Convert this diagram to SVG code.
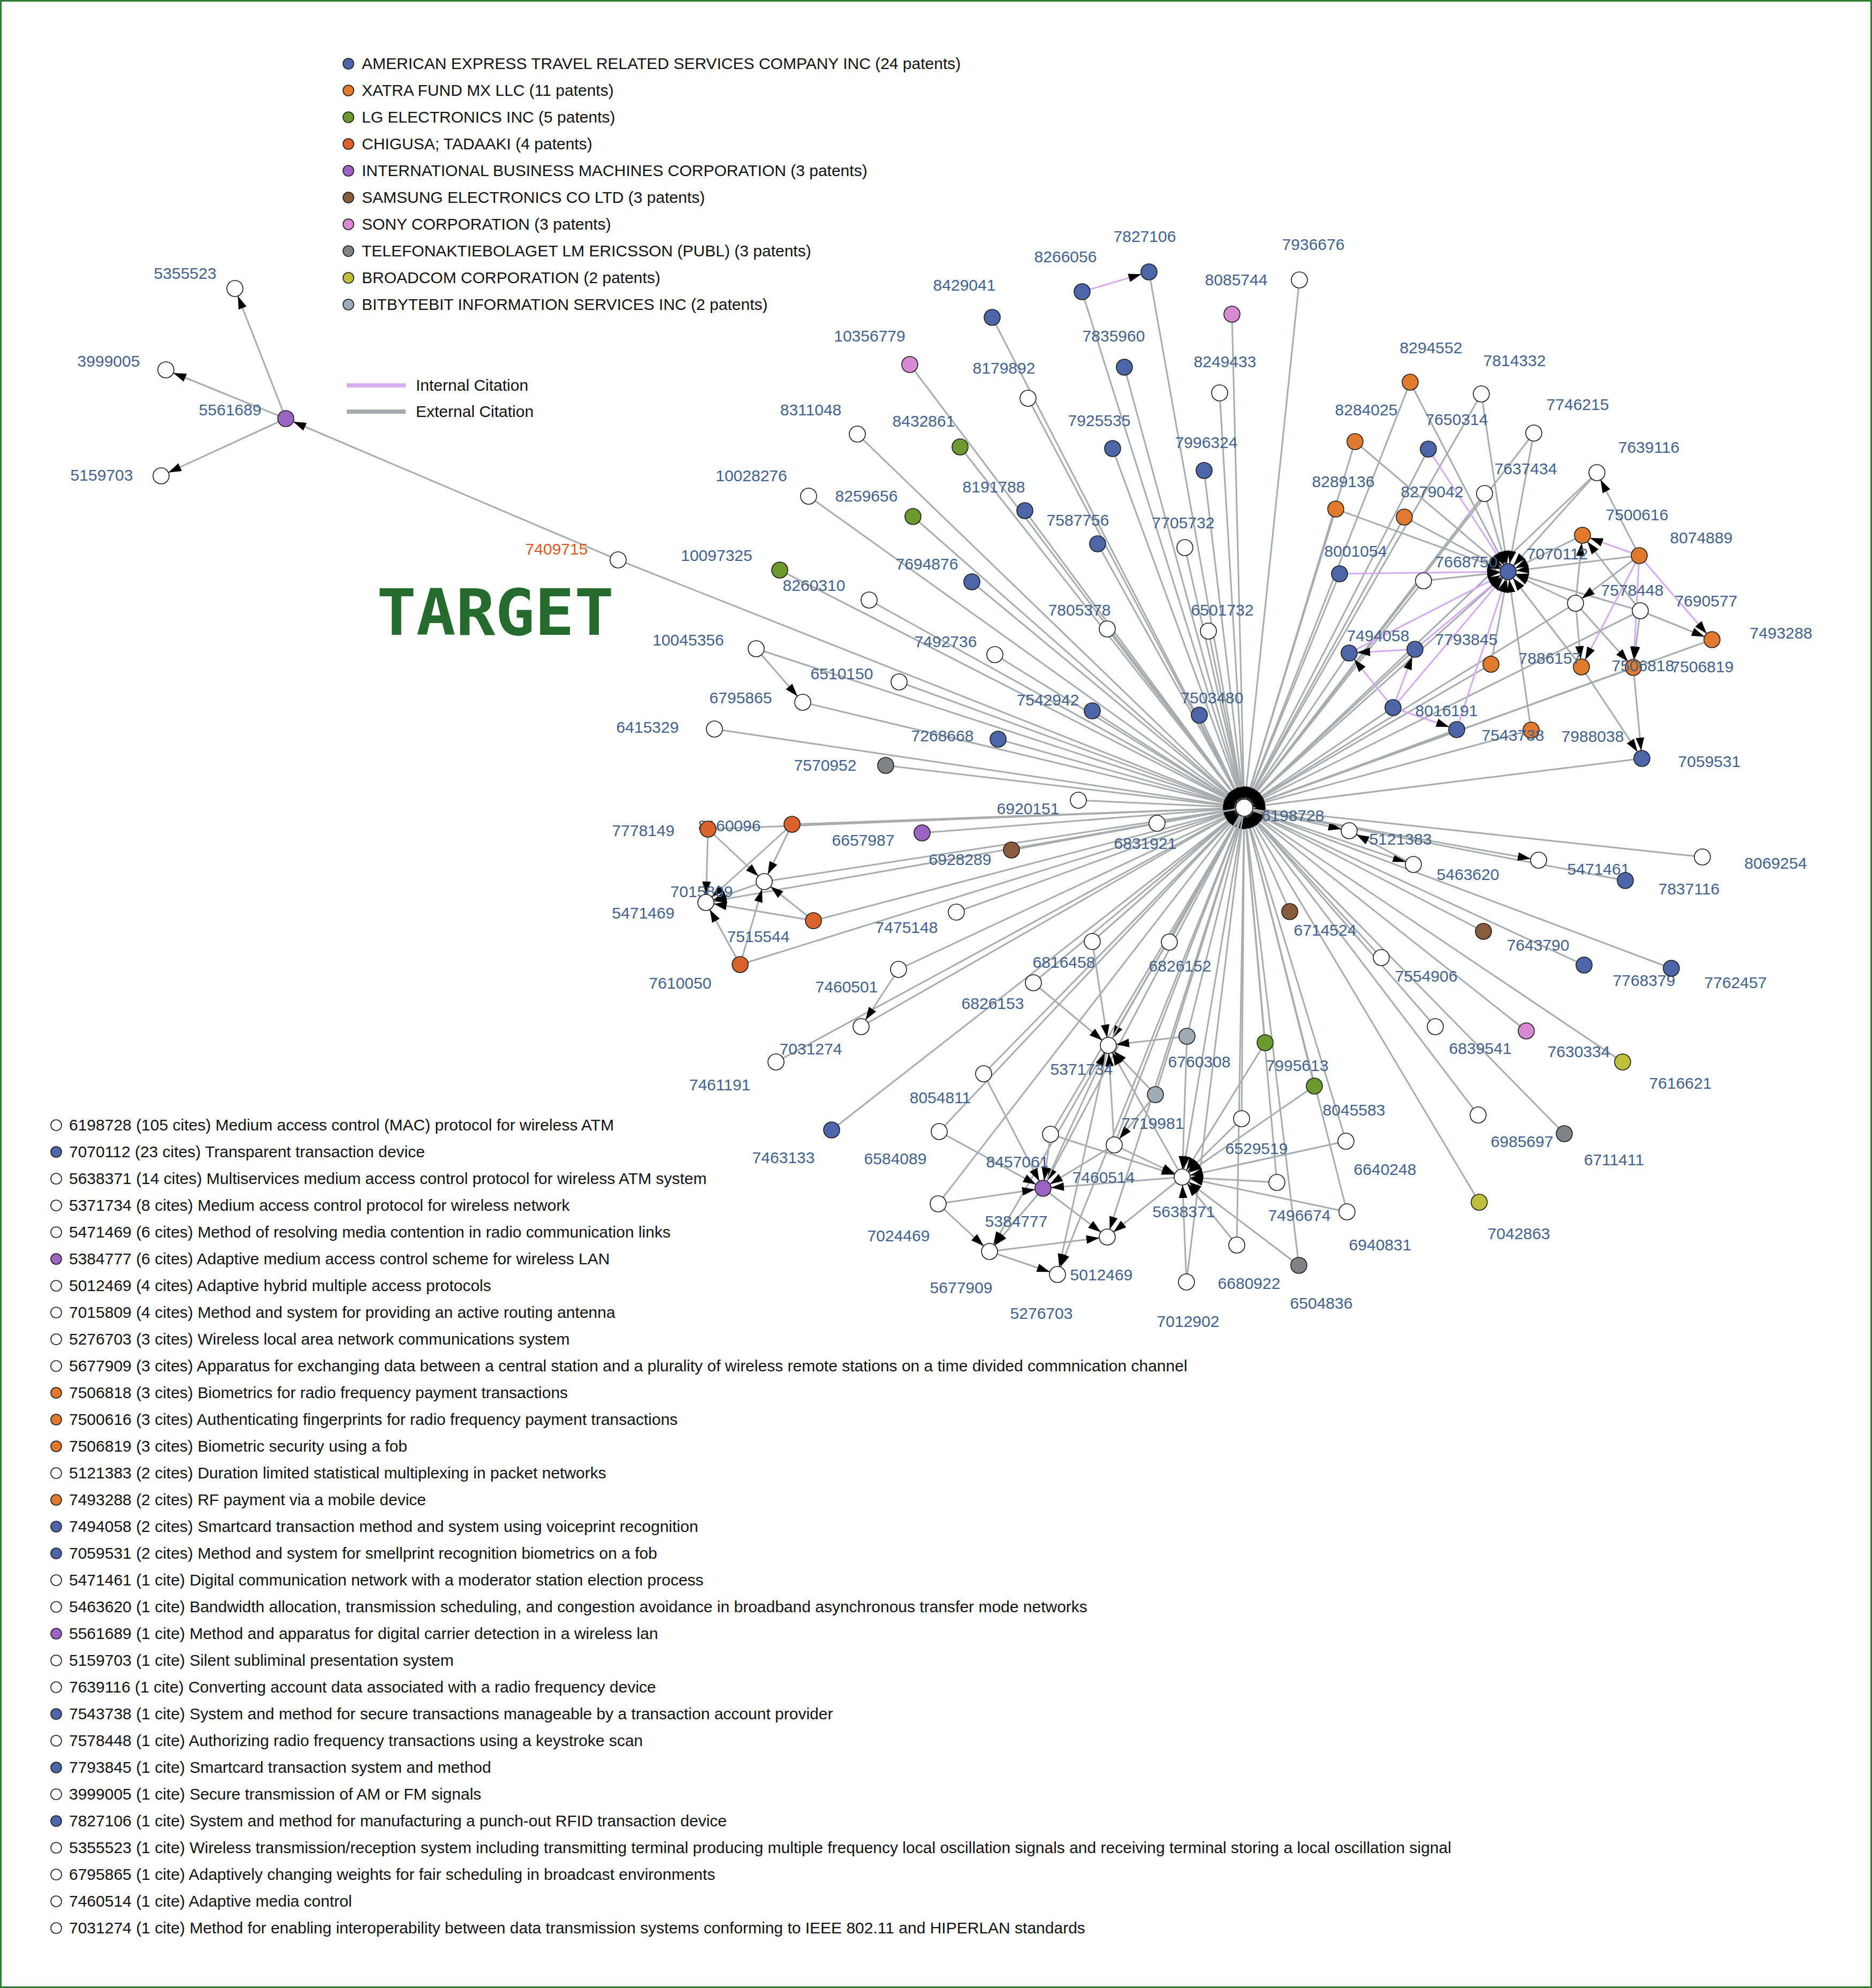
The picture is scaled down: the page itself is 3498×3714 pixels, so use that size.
<svg xmlns="http://www.w3.org/2000/svg" width="3498" height="3714" viewBox="0 0 3498 3714">
<style>
text{font-family:"Liberation Sans",Arial,sans-serif}
text.tg{font-family:"DejaVu Sans Mono","Liberation Mono",monospace;font-weight:bold;font-size:120px;fill:#256b2e}
.e{stroke:#a7acaf;stroke-width:3;fill:none;marker-end:url(#a)}
.i{stroke:#d6aaf1;stroke-width:3;fill:none;marker-end:url(#a)}
circle{stroke:#1a1a1a;stroke-width:1.6}
.w{fill:#ffffff}.ax{fill:#4c66a8}.xf{fill:#e07a2e}.lg{fill:#6c9a2e}.ch{fill:#d9632a}.ibm{fill:#9b64c2}.ss{fill:#8a5c3e}.sn{fill:#d68ad1}.er{fill:#7f8385}.bc{fill:#bfbf3c}.bb{fill:#9facb5}
.l{font-size:30px;fill:#44618b;text-anchor:middle}
.t{font-size:30px;fill:#111}
</style>
<defs>
<marker id="a" markerUnits="userSpaceOnUse" markerWidth="24" markerHeight="16" refX="39" refY="8" orient="auto" overflow="visible"><path d="M0,0 L24,8 L0,16 z" fill="#000"/></marker>
</defs>
<rect x="1.5" y="1.5" width="3495" height="3711" fill="#fff" stroke="#2e7d32" stroke-width="3"/>
<g id="legend-companies">
<circle cx="651" cy="119" r="10" class="ax"/><text class="t" x="676" y="129">AMERICAN EXPRESS TRAVEL RELATED SERVICES COMPANY INC (24 patents)</text>
<circle cx="651" cy="169" r="10" class="xf"/><text class="t" x="676" y="179">XATRA FUND MX LLC (11 patents)</text>
<circle cx="651" cy="219" r="10" class="lg"/><text class="t" x="676" y="229">LG ELECTRONICS INC (5 patents)</text>
<circle cx="651" cy="269" r="10" class="ch"/><text class="t" x="676" y="279">CHIGUSA; TADAAKI (4 patents)</text>
<circle cx="651" cy="319" r="10" class="ibm"/><text class="t" x="676" y="329">INTERNATIONAL BUSINESS MACHINES CORPORATION (3 patents)</text>
<circle cx="651" cy="369" r="10" class="ss"/><text class="t" x="676" y="379">SAMSUNG ELECTRONICS CO LTD (3 patents)</text>
<circle cx="651" cy="419" r="10" class="sn"/><text class="t" x="676" y="429">SONY CORPORATION (3 patents)</text>
<circle cx="651" cy="469" r="10" class="er"/><text class="t" x="676" y="479">TELEFONAKTIEBOLAGET LM ERICSSON (PUBL) (3 patents)</text>
<circle cx="651" cy="519" r="10" class="bc"/><text class="t" x="676" y="529">BROADCOM CORPORATION (2 patents)</text>
<circle cx="651" cy="569" r="10" class="bb"/><text class="t" x="676" y="579">BITBYTEBIT INFORMATION SERVICES INC (2 patents)</text>
</g>
<g id="legend-edges">
<line x1="648" y1="720" x2="758" y2="720" stroke="#d8b0f2" stroke-width="8"/><text class="t" x="777" y="730">Internal Citation</text>
<line x1="648" y1="769" x2="758" y2="769" stroke="#a7acaf" stroke-width="8"/><text class="t" x="777" y="779">External Citation</text>
</g>
<text id="target-title" class="tg" x="704" y="1186" textLength="443" lengthAdjust="spacingAndGlyphs">TARGET</text>
<g id="connectors">
<line class="e" x1="1155" y1="1046" x2="534" y2="782"/>
<line class="e" x1="534" y1="782" x2="439" y2="539"/>
<line class="e" x1="534" y1="782" x2="310" y2="691"/>
<line class="e" x1="534" y1="782" x2="301" y2="889"/>
<line class="i" x1="2022" y1="545" x2="2147" y2="508"/>
<line class="e" x1="1413" y1="1212" x2="1500" y2="1312"/>
<line class="e" x1="1155" y1="1046" x2="2325" y2="1509"/>
<line class="e" x1="2147" y1="508" x2="2325" y2="1509"/>
<line class="e" x1="2022" y1="545" x2="2325" y2="1509"/>
<line class="e" x1="1854" y1="593" x2="2325" y2="1509"/>
<line class="e" x1="2302" y1="587" x2="2325" y2="1509"/>
<line class="e" x1="2428" y1="523" x2="2325" y2="1509"/>
<line class="e" x1="1700" y1="681" x2="2325" y2="1509"/>
<line class="e" x1="1921" y1="744" x2="2325" y2="1509"/>
<line class="e" x1="2101" y1="686" x2="2325" y2="1509"/>
<line class="e" x1="2279" y1="734" x2="2325" y2="1509"/>
<line class="e" x1="1602" y1="811" x2="2325" y2="1509"/>
<line class="e" x1="1794" y1="835" x2="2325" y2="1509"/>
<line class="e" x1="2079" y1="838" x2="2325" y2="1509"/>
<line class="e" x1="2250" y1="879" x2="2325" y2="1509"/>
<line class="e" x1="1511" y1="927" x2="2325" y2="1509"/>
<line class="e" x1="1706" y1="965" x2="2325" y2="1509"/>
<line class="e" x1="1915" y1="954" x2="2325" y2="1509"/>
<line class="e" x1="2051" y1="1016" x2="2325" y2="1509"/>
<line class="e" x1="2214" y1="1023" x2="2325" y2="1509"/>
<line class="e" x1="1457" y1="1065" x2="2325" y2="1509"/>
<line class="e" x1="1816" y1="1087" x2="2325" y2="1509"/>
<line class="e" x1="1624" y1="1121" x2="2325" y2="1509"/>
<line class="e" x1="2069" y1="1175" x2="2325" y2="1509"/>
<line class="e" x1="2258" y1="1179" x2="2325" y2="1509"/>
<line class="e" x1="1413" y1="1212" x2="2325" y2="1509"/>
<line class="e" x1="1859" y1="1223" x2="2325" y2="1509"/>
<line class="e" x1="1680" y1="1274" x2="2325" y2="1509"/>
<line class="e" x1="1500" y1="1312" x2="2325" y2="1509"/>
<line class="e" x1="2041" y1="1328" x2="2325" y2="1509"/>
<line class="e" x1="2241" y1="1336" x2="2325" y2="1509"/>
<line class="e" x1="1335" y1="1362" x2="2325" y2="1509"/>
<line class="e" x1="1865" y1="1381" x2="2325" y2="1509"/>
<line class="e" x1="1655" y1="1430" x2="2325" y2="1509"/>
<line class="e" x1="2015" y1="1495" x2="2325" y2="1509"/>
<line class="e" x1="1480" y1="1540" x2="2325" y2="1509"/>
<line class="e" x1="1323" y1="1549" x2="2325" y2="1509"/>
<line class="e" x1="1723" y1="1556" x2="2325" y2="1509"/>
<line class="e" x1="2162" y1="1538" x2="2325" y2="1509"/>
<line class="e" x1="1890" y1="1588" x2="2325" y2="1509"/>
<line class="e" x1="1428" y1="1647" x2="2325" y2="1509"/>
<line class="e" x1="1520" y1="1720" x2="2325" y2="1509"/>
<line class="e" x1="1383" y1="1802" x2="2325" y2="1509"/>
<line class="e" x1="1787" y1="1704" x2="2325" y2="1509"/>
<line class="e" x1="3181" y1="1601" x2="2325" y2="1509"/>
<line class="e" x1="3037" y1="1645" x2="2325" y2="1509"/>
<line class="e" x1="2410" y1="1703" x2="2325" y2="1509"/>
<line class="e" x1="2772" y1="1740" x2="2325" y2="1509"/>
<line class="e" x1="2960" y1="1803" x2="2325" y2="1509"/>
<line class="e" x1="3123" y1="1809" x2="2325" y2="1509"/>
<line class="e" x1="2581" y1="1789" x2="2325" y2="1509"/>
<line class="e" x1="2682" y1="1918" x2="2325" y2="1509"/>
<line class="e" x1="2852" y1="1926" x2="2325" y2="1509"/>
<line class="e" x1="3032" y1="1984" x2="2325" y2="1509"/>
<line class="e" x1="2762" y1="2083" x2="2325" y2="1509"/>
<line class="e" x1="2923" y1="2118" x2="2325" y2="1509"/>
<line class="e" x1="2764" y1="2246" x2="2325" y2="1509"/>
<line class="e" x1="2364" y1="1948" x2="2325" y2="1509"/>
<line class="e" x1="2456" y1="2029" x2="2325" y2="1509"/>
<line class="e" x1="2320" y1="2090" x2="2325" y2="1509"/>
<line class="e" x1="2515" y1="2132" x2="2325" y2="1509"/>
<line class="e" x1="2386" y1="2209" x2="2325" y2="1509"/>
<line class="e" x1="2517" y1="2264" x2="2325" y2="1509"/>
<line class="e" x1="2311" y1="2326" x2="2325" y2="1509"/>
<line class="e" x1="2217" y1="2395" x2="2325" y2="1509"/>
<line class="e" x1="2427" y1="2364" x2="2325" y2="1509"/>
<line class="e" x1="2041" y1="1759" x2="2325" y2="1509"/>
<line class="e" x1="2185" y1="1760" x2="2325" y2="1509"/>
<line class="e" x1="1679" y1="1811" x2="2325" y2="1509"/>
<line class="e" x1="1931" y1="1836" x2="2325" y2="1509"/>
<line class="e" x1="1609" y1="1918" x2="2325" y2="1509"/>
<line class="e" x1="1450" y1="1984" x2="2325" y2="1509"/>
<line class="e" x1="2218" y1="1936" x2="2325" y2="1509"/>
<line class="e" x1="1838" y1="2006" x2="2325" y2="1509"/>
<line class="e" x1="2159" y1="2045" x2="2325" y2="1509"/>
<line class="e" x1="1554" y1="2111" x2="2325" y2="1509"/>
<line class="e" x1="1755" y1="2114" x2="2325" y2="1509"/>
<line class="e" x1="1963" y1="2119" x2="2325" y2="1509"/>
<line class="e" x1="2082" y1="2139" x2="2325" y2="1509"/>
<line class="e" x1="1753" y1="2249" x2="2325" y2="1509"/>
<line class="e" x1="2635" y1="714" x2="2325" y2="1509"/>
<line class="e" x1="2768" y1="736" x2="2325" y2="1509"/>
<line class="e" x1="2532" y1="825" x2="2325" y2="1509"/>
<line class="e" x1="2669" y1="839" x2="2325" y2="1509"/>
<line class="e" x1="2866" y1="809" x2="2325" y2="1509"/>
<line class="e" x1="2984" y1="883" x2="2325" y2="1509"/>
<line class="e" x1="2774" y1="922" x2="2325" y2="1509"/>
<line class="e" x1="2496" y1="951" x2="2325" y2="1509"/>
<line class="e" x1="2624" y1="966" x2="2325" y2="1509"/>
<line class="e" x1="2503" y1="1072" x2="2325" y2="1509"/>
<line class="e" x1="2818" y1="1068" x2="2325" y2="1509"/>
<line class="e" x1="2660" y1="1085" x2="2325" y2="1509"/>
<line class="e" x1="2944" y1="1127" x2="2325" y2="1509"/>
<line class="e" x1="3065" y1="1141" x2="2325" y2="1509"/>
<line class="e" x1="3199" y1="1195" x2="2325" y2="1509"/>
<line class="e" x1="2521" y1="1220" x2="2325" y2="1509"/>
<line class="e" x1="2644" y1="1213" x2="2325" y2="1509"/>
<line class="e" x1="2786" y1="1241" x2="2325" y2="1509"/>
<line class="e" x1="3052" y1="1247" x2="2325" y2="1509"/>
<line class="e" x1="2603" y1="1322" x2="2325" y2="1509"/>
<line class="e" x1="2722" y1="1363" x2="2325" y2="1509"/>
<line class="e" x1="2861" y1="1364" x2="2325" y2="1509"/>
<line class="e" x1="3068" y1="1417" x2="2325" y2="1509"/>
<line class="e" x1="2325" y1="1509" x2="2521" y2="1552"/>
<line class="e" x1="2325" y1="1509" x2="2641" y2="1615"/>
<line class="e" x1="2325" y1="1509" x2="2875" y2="1607"/>
<line class="e" x1="2325" y1="1509" x2="1319" y2="1686"/>
<line class="e" x1="2325" y1="1509" x2="2071" y2="1953"/>
<line class="e" x1="2325" y1="1509" x2="2209" y2="2199"/>
<line class="e" x1="2325" y1="1509" x2="1949" y2="2220"/>
<line class="e" x1="2325" y1="1509" x2="1976" y2="2381"/>
<line class="e" x1="2325" y1="1509" x2="2069" y2="2311"/>
<line class="e" x1="2325" y1="1509" x2="1849" y2="2338"/>
<line class="e" x1="1480" y1="1540" x2="1428" y2="1647"/>
<line class="e" x1="1480" y1="1540" x2="1319" y2="1686"/>
<line class="e" x1="1323" y1="1549" x2="1319" y2="1686"/>
<line class="e" x1="1323" y1="1549" x2="1428" y2="1647"/>
<line class="e" x1="1428" y1="1647" x2="1319" y2="1686"/>
<line class="e" x1="1520" y1="1720" x2="1428" y2="1647"/>
<line class="e" x1="1520" y1="1720" x2="1319" y2="1686"/>
<line class="e" x1="1383" y1="1802" x2="1319" y2="1686"/>
<line class="e" x1="1383" y1="1802" x2="1428" y2="1647"/>
<line class="e" x1="2641" y1="1615" x2="2521" y2="1552"/>
<line class="e" x1="1679" y1="1811" x2="1609" y2="1918"/>
<line class="e" x1="1931" y1="1836" x2="2071" y2="1953"/>
<line class="e" x1="2041" y1="1759" x2="2071" y2="1953"/>
<line class="e" x1="2218" y1="1936" x2="2071" y2="1953"/>
<line class="e" x1="2159" y1="2045" x2="2071" y2="1953"/>
<line class="e" x1="2082" y1="2139" x2="2071" y2="1953"/>
<line class="e" x1="2209" y1="2199" x2="2071" y2="1953"/>
<line class="e" x1="1949" y1="2220" x2="2071" y2="1953"/>
<line class="e" x1="2159" y1="2045" x2="2082" y2="2139"/>
<line class="e" x1="2218" y1="1936" x2="2209" y2="2199"/>
<line class="e" x1="2364" y1="1948" x2="2209" y2="2199"/>
<line class="e" x1="2456" y1="2029" x2="2209" y2="2199"/>
<line class="e" x1="2320" y1="2090" x2="2209" y2="2199"/>
<line class="e" x1="2515" y1="2132" x2="2209" y2="2199"/>
<line class="e" x1="2386" y1="2209" x2="2209" y2="2199"/>
<line class="e" x1="2517" y1="2264" x2="2209" y2="2199"/>
<line class="e" x1="2311" y1="2326" x2="2209" y2="2199"/>
<line class="e" x1="2427" y1="2364" x2="2209" y2="2199"/>
<line class="e" x1="2217" y1="2395" x2="2209" y2="2199"/>
<line class="e" x1="2082" y1="2139" x2="2209" y2="2199"/>
<line class="e" x1="1963" y1="2119" x2="2209" y2="2199"/>
<line class="e" x1="2209" y1="2199" x2="1949" y2="2220"/>
<line class="e" x1="2209" y1="2199" x2="2069" y2="2311"/>
<line class="e" x1="1753" y1="2249" x2="1949" y2="2220"/>
<line class="e" x1="1755" y1="2114" x2="1949" y2="2220"/>
<line class="e" x1="1838" y1="2006" x2="1949" y2="2220"/>
<line class="e" x1="2082" y1="2139" x2="1949" y2="2220"/>
<line class="e" x1="1963" y1="2119" x2="1949" y2="2220"/>
<line class="e" x1="1949" y1="2220" x2="1849" y2="2338"/>
<line class="e" x1="1949" y1="2220" x2="2069" y2="2311"/>
<line class="e" x1="1753" y1="2249" x2="1849" y2="2338"/>
<line class="e" x1="1849" y1="2338" x2="2069" y2="2311"/>
<line class="e" x1="1849" y1="2338" x2="1976" y2="2381"/>
<line class="e" x1="2071" y1="1953" x2="1976" y2="2381"/>
<line class="e" x1="2635" y1="714" x2="2818" y2="1068"/>
<line class="e" x1="2768" y1="736" x2="2818" y2="1068"/>
<line class="e" x1="2532" y1="825" x2="2818" y2="1068"/>
<line class="i" x1="2669" y1="839" x2="2818" y2="1068"/>
<line class="e" x1="2866" y1="809" x2="2818" y2="1068"/>
<line class="e" x1="2984" y1="883" x2="2818" y2="1068"/>
<line class="e" x1="2774" y1="922" x2="2818" y2="1068"/>
<line class="e" x1="2496" y1="951" x2="2818" y2="1068"/>
<line class="e" x1="2624" y1="966" x2="2818" y2="1068"/>
<line class="e" x1="2957" y1="1000" x2="2818" y2="1068"/>
<line class="e" x1="3063" y1="1038" x2="2818" y2="1068"/>
<line class="i" x1="2503" y1="1072" x2="2818" y2="1068"/>
<line class="e" x1="2660" y1="1085" x2="2818" y2="1068"/>
<line class="e" x1="2944" y1="1127" x2="2818" y2="1068"/>
<line class="e" x1="3065" y1="1141" x2="2818" y2="1068"/>
<line class="i" x1="2521" y1="1220" x2="2818" y2="1068"/>
<line class="i" x1="2644" y1="1213" x2="2818" y2="1068"/>
<line class="e" x1="2786" y1="1241" x2="2818" y2="1068"/>
<line class="e" x1="2955" y1="1246" x2="2818" y2="1068"/>
<line class="i" x1="2603" y1="1322" x2="2818" y2="1068"/>
<line class="i" x1="2722" y1="1363" x2="2818" y2="1068"/>
<line class="e" x1="2861" y1="1364" x2="2818" y2="1068"/>
<line class="i" x1="3063" y1="1038" x2="2957" y2="1000"/>
<line class="e" x1="3063" y1="1038" x2="2984" y2="883"/>
<line class="e" x1="3063" y1="1038" x2="2944" y2="1127"/>
<line class="i" x1="3063" y1="1038" x2="3199" y2="1195"/>
<line class="i" x1="3063" y1="1038" x2="2955" y2="1246"/>
<line class="i" x1="3063" y1="1038" x2="3052" y2="1247"/>
<line class="e" x1="2944" y1="1127" x2="2957" y2="1000"/>
<line class="e" x1="2944" y1="1127" x2="2955" y2="1246"/>
<line class="e" x1="2944" y1="1127" x2="3052" y2="1247"/>
<line class="e" x1="3065" y1="1141" x2="2957" y2="1000"/>
<line class="e" x1="3065" y1="1141" x2="3052" y2="1247"/>
<line class="e" x1="3065" y1="1141" x2="3199" y2="1195"/>
<line class="e" x1="2955" y1="1246" x2="3068" y2="1417"/>
<line class="e" x1="3052" y1="1247" x2="3068" y2="1417"/>
<line class="i" x1="2644" y1="1213" x2="2521" y2="1220"/>
<line class="i" x1="2603" y1="1322" x2="2521" y2="1220"/>
<line class="i" x1="2603" y1="1322" x2="2644" y2="1213"/>
<line class="i" x1="2603" y1="1322" x2="2722" y2="1363"/>
</g>
<g id="nodes">
<g id="n5355523"><circle cx="439" cy="539" r="15" class="w"/><text class="l" x="346" y="521">5355523</text></g>
<g id="n3999005"><circle cx="310" cy="691" r="15" class="w"/><text class="l" x="203" y="685">3999005</text></g>
<g id="n5561689"><circle cx="534" cy="782" r="15" class="ibm"/><text class="l" x="430" y="776">5561689</text></g>
<g id="n5159703"><circle cx="301" cy="889" r="15" class="w"/><text class="l" x="190" y="898">5159703</text></g>
<g id="n7409715"><circle cx="1155" cy="1046" r="15" class="w"/><text class="l" x="1040" y="1036" style="fill:#d65a26">7409715</text></g>
<g id="n7827106"><circle cx="2147" cy="508" r="15" class="ax"/><text class="l" x="2139" y="452">7827106</text></g>
<g id="n8266056"><circle cx="2022" cy="545" r="15" class="ax"/><text class="l" x="1991" y="490">8266056</text></g>
<g id="n8429041"><circle cx="1854" cy="593" r="15" class="ax"/><text class="l" x="1802" y="543">8429041</text></g>
<g id="n8085744"><circle cx="2302" cy="587" r="15" class="sn"/><text class="l" x="2310" y="533">8085744</text></g>
<g id="n7936676"><circle cx="2428" cy="523" r="15" class="w"/><text class="l" x="2454" y="467">7936676</text></g>
<g id="n10356779"><circle cx="1700" cy="681" r="15" class="sn"/><text class="l" x="1625" y="638">10356779</text></g>
<g id="n8179892"><circle cx="1921" cy="744" r="15" class="w"/><text class="l" x="1876" y="698">8179892</text></g>
<g id="n7835960"><circle cx="2101" cy="686" r="15" class="ax"/><text class="l" x="2081" y="638">7835960</text></g>
<g id="n8249433"><circle cx="2279" cy="734" r="15" class="w"/><text class="l" x="2289" y="686">8249433</text></g>
<g id="n8311048"><circle cx="1602" cy="811" r="15" class="w"/><text class="l" x="1515" y="776">8311048</text></g>
<g id="n8432861"><circle cx="1794" cy="835" r="15" class="lg"/><text class="l" x="1726" y="797">8432861</text></g>
<g id="n7925535"><circle cx="2079" cy="838" r="15" class="ax"/><text class="l" x="2054" y="796">7925535</text></g>
<g id="n7996324"><circle cx="2250" cy="879" r="15" class="ax"/><text class="l" x="2254" y="837">7996324</text></g>
<g id="n10028276"><circle cx="1511" cy="927" r="15" class="w"/><text class="l" x="1404" y="899">10028276</text></g>
<g id="n8259656"><circle cx="1706" cy="965" r="15" class="lg"/><text class="l" x="1619" y="937">8259656</text></g>
<g id="n8191788"><circle cx="1915" cy="954" r="15" class="ax"/><text class="l" x="1857" y="920">8191788</text></g>
<g id="n7587756"><circle cx="2051" cy="1016" r="15" class="ax"/><text class="l" x="2014" y="982">7587756</text></g>
<g id="n7705732"><circle cx="2214" cy="1023" r="15" class="w"/><text class="l" x="2211" y="987">7705732</text></g>
<g id="n10097325"><circle cx="1457" cy="1065" r="15" class="lg"/><text class="l" x="1339" y="1048">10097325</text></g>
<g id="n7694876"><circle cx="1816" cy="1087" r="15" class="ax"/><text class="l" x="1732" y="1064">7694876</text></g>
<g id="n8260310"><circle cx="1624" cy="1121" r="15" class="w"/><text class="l" x="1521" y="1104">8260310</text></g>
<g id="n7805378"><circle cx="2069" cy="1175" r="15" class="w"/><text class="l" x="2017" y="1150">7805378</text></g>
<g id="n6501732"><circle cx="2258" cy="1179" r="15" class="w"/><text class="l" x="2284" y="1150">6501732</text></g>
<g id="n10045356"><circle cx="1413" cy="1212" r="15" class="w"/><text class="l" x="1286" y="1206">10045356</text></g>
<g id="n7492736"><circle cx="1859" cy="1223" r="15" class="w"/><text class="l" x="1767" y="1209">7492736</text></g>
<g id="n6510150"><circle cx="1680" cy="1274" r="15" class="w"/><text class="l" x="1573" y="1269">6510150</text></g>
<g id="n6795865"><circle cx="1500" cy="1312" r="15" class="w"/><text class="l" x="1384" y="1314">6795865</text></g>
<g id="n7542942"><circle cx="2041" cy="1328" r="15" class="ax"/><text class="l" x="1958" y="1318">7542942</text></g>
<g id="n7503480"><circle cx="2241" cy="1336" r="15" class="ax"/><text class="l" x="2265" y="1314">7503480</text></g>
<g id="n6415329"><circle cx="1335" cy="1362" r="15" class="w"/><text class="l" x="1210" y="1369">6415329</text></g>
<g id="n7268668"><circle cx="1865" cy="1381" r="15" class="ax"/><text class="l" x="1761" y="1385">7268668</text></g>
<g id="n7570952"><circle cx="1655" cy="1430" r="15" class="er"/><text class="l" x="1542" y="1440">7570952</text></g>
<g id="n6920151"><circle cx="2015" cy="1495" r="15" class="w"/><text class="l" x="1921" y="1521">6920151</text></g>
<g id="n6198728"><circle cx="2325" cy="1509" r="16" class="w"/><text class="l" x="2416" y="1534">6198728</text></g>
<g id="n8160096"><circle cx="1480" cy="1540" r="15" class="ch"/><text class="l" x="1363" y="1553">8160096</text></g>
<g id="n7778149"><circle cx="1323" cy="1549" r="15" class="ch"/><text class="l" x="1202" y="1562">7778149</text></g>
<g id="n6657987"><circle cx="1723" cy="1556" r="15" class="ibm"/><text class="l" x="1613" y="1580">6657987</text></g>
<g id="n6831921"><circle cx="2162" cy="1538" r="15" class="w"/><text class="l" x="2140" y="1586">6831921</text></g>
<g id="n6928289"><circle cx="1890" cy="1588" r="15" class="ss"/><text class="l" x="1794" y="1616">6928289</text></g>
<g id="n7015809"><circle cx="1428" cy="1647" r="15" class="w"/><text class="l" x="1311" y="1676">7015809</text></g>
<g id="n5471469"><circle cx="1319" cy="1686" r="15" class="w"/><text class="l" x="1202" y="1716">5471469</text></g>
<g id="n7515544"><circle cx="1520" cy="1720" r="15" class="ch"/><text class="l" x="1417" y="1760">7515544</text></g>
<g id="n7610050"><circle cx="1383" cy="1802" r="15" class="ch"/><text class="l" x="1271" y="1847">7610050</text></g>
<g id="n7475148"><circle cx="1787" cy="1704" r="15" class="w"/><text class="l" x="1694" y="1743">7475148</text></g>
<g id="n5121383"><circle cx="2521" cy="1552" r="15" class="w"/><text class="l" x="2617" y="1578">5121383</text></g>
<g id="n5463620"><circle cx="2641" cy="1615" r="15" class="w"/><text class="l" x="2743" y="1644">5463620</text></g>
<g id="n5471461"><circle cx="2875" cy="1607" r="15" class="w"/><text class="l" x="2987" y="1634">5471461</text></g>
<g id="n7837116"><circle cx="3037" cy="1645" r="15" class="ax"/><text class="l" x="3156" y="1671">7837116</text></g>
<g id="n8069254"><circle cx="3181" cy="1601" r="15" class="w"/><text class="l" x="3318" y="1623">8069254</text></g>
<g id="n6714524"><circle cx="2410" cy="1703" r="15" class="ss"/><text class="l" x="2476" y="1748">6714524</text></g>
<g id="n7643790"><circle cx="2772" cy="1740" r="15" class="ss"/><text class="l" x="2874" y="1776">7643790</text></g>
<g id="n7768379"><circle cx="2960" cy="1803" r="15" class="ax"/><text class="l" x="3072" y="1842">7768379</text></g>
<g id="n7762457"><circle cx="3123" cy="1809" r="15" class="ax"/><text class="l" x="3243" y="1846">7762457</text></g>
<g id="n7554906"><circle cx="2581" cy="1789" r="15" class="w"/><text class="l" x="2665" y="1834">7554906</text></g>
<g id="n6839541"><circle cx="2682" cy="1918" r="15" class="w"/><text class="l" x="2766" y="1969">6839541</text></g>
<g id="n7630334"><circle cx="2852" cy="1926" r="15" class="sn"/><text class="l" x="2950" y="1975">7630334</text></g>
<g id="n7616621"><circle cx="3032" cy="1984" r="15" class="bc"/><text class="l" x="3140" y="2034">7616621</text></g>
<g id="n6985697"><circle cx="2762" cy="2083" r="15" class="w"/><text class="l" x="2844" y="2143">6985697</text></g>
<g id="n6711411"><circle cx="2923" cy="2118" r="15" class="er"/><text class="l" x="3016" y="2177">6711411</text></g>
<g id="n7042863"><circle cx="2764" cy="2246" r="15" class="bc"/><text class="l" x="2838" y="2315">7042863</text></g>
<g id="n7995613"><circle cx="2364" cy="1948" r="15" class="lg"/><text class="l" x="2424" y="2001">7995613</text></g>
<g id="n8045583"><circle cx="2456" cy="2029" r="15" class="lg"/><text class="l" x="2530" y="2084">8045583</text></g>
<g id="n6529519"><circle cx="2320" cy="2090" r="15" class="w"/><text class="l" x="2348" y="2156">6529519</text></g>
<g id="n6640248"><circle cx="2515" cy="2132" r="15" class="w"/><text class="l" x="2588" y="2195">6640248</text></g>
<g id="n7496674"><circle cx="2386" cy="2209" r="15" class="w"/><text class="l" x="2428" y="2281">7496674</text></g>
<g id="n6940831"><circle cx="2517" cy="2264" r="15" class="w"/><text class="l" x="2579" y="2336">6940831</text></g>
<g id="n6816458"><circle cx="2041" cy="1759" r="15" class="w"/><text class="l" x="1988" y="1808">6816458</text></g>
<g id="n6826152"><circle cx="2185" cy="1760" r="15" class="w"/><text class="l" x="2205" y="1815">6826152</text></g>
<g id="n7460501"><circle cx="1679" cy="1811" r="15" class="w"/><text class="l" x="1582" y="1854">7460501</text></g>
<g id="n6826153"><circle cx="1931" cy="1836" r="15" class="w"/><text class="l" x="1855" y="1885">6826153</text></g>
<g id="n7031274"><circle cx="1609" cy="1918" r="15" class="w"/><text class="l" x="1515" y="1970">7031274</text></g>
<g id="n7461191"><circle cx="1450" cy="1984" r="15" class="w"/><text class="l" x="1345" y="2037">7461191</text></g>
<g id="n5371734"><circle cx="2071" cy="1953" r="15" class="w"/><text class="l" x="2021" y="2008">5371734</text></g>
<g id="n6760308"><circle cx="2218" cy="1936" r="15" class="bb"/><text class="l" x="2241" y="1994">6760308</text></g>
<g id="n8054811"><circle cx="1838" cy="2006" r="15" class="w"/><text class="l" x="1757" y="2061">8054811</text></g>
<g id="n7719981"><circle cx="2159" cy="2045" r="15" class="bb"/><text class="l" x="2154" y="2109">7719981</text></g>
<g id="n7463133"><circle cx="1554" cy="2111" r="15" class="ax"/><text class="l" x="1464" y="2173">7463133</text></g>
<g id="n6584089"><circle cx="1755" cy="2114" r="15" class="w"/><text class="l" x="1673" y="2175">6584089</text></g>
<g id="n8457061"><circle cx="1963" cy="2119" r="15" class="w"/><text class="l" x="1901" y="2181">8457061</text></g>
<g id="n7460514"><circle cx="2082" cy="2139" r="15" class="w"/><text class="l" x="2062" y="2210">7460514</text></g>
<g id="n5638371"><circle cx="2209" cy="2199" r="15" class="w"/><text class="l" x="2212" y="2274">5638371</text></g>
<g id="n5384777"><circle cx="1949" cy="2220" r="15" class="ibm"/><text class="l" x="1899" y="2292">5384777</text></g>
<g id="n7024469"><circle cx="1753" cy="2249" r="15" class="w"/><text class="l" x="1679" y="2319">7024469</text></g>
<g id="n5276703"><circle cx="2069" cy="2311" r="15" class="w"/><text class="l" x="1946" y="2464">5276703</text></g>
<g id="n5677909"><circle cx="1849" cy="2338" r="15" class="w"/><text class="l" x="1796" y="2416">5677909</text></g>
<g id="n5012469"><circle cx="1976" cy="2381" r="15" class="w"/><text class="l" x="2058" y="2392">5012469</text></g>
<g id="n6680922"><circle cx="2311" cy="2326" r="15" class="w"/><text class="l" x="2334" y="2408">6680922</text></g>
<g id="n7012902"><circle cx="2217" cy="2395" r="15" class="w"/><text class="l" x="2220" y="2479">7012902</text></g>
<g id="n6504836"><circle cx="2427" cy="2364" r="15" class="er"/><text class="l" x="2469" y="2445">6504836</text></g>
<g id="n8294552"><circle cx="2635" cy="714" r="15" class="xf"/><text class="l" x="2674" y="660">8294552</text></g>
<g id="n7814332"><circle cx="2768" cy="736" r="15" class="w"/><text class="l" x="2830" y="684">7814332</text></g>
<g id="n8284025"><circle cx="2532" cy="825" r="15" class="xf"/><text class="l" x="2553" y="776">8284025</text></g>
<g id="n7650314"><circle cx="2669" cy="839" r="15" class="ax"/><text class="l" x="2722" y="794">7650314</text></g>
<g id="n7746215"><circle cx="2866" cy="809" r="15" class="w"/><text class="l" x="2948" y="766">7746215</text></g>
<g id="n7639116"><circle cx="2984" cy="883" r="15" class="w"/><text class="l" x="3081" y="846">7639116</text></g>
<g id="n7637434"><circle cx="2774" cy="922" r="15" class="w"/><text class="l" x="2851" y="886">7637434</text></g>
<g id="n8289136"><circle cx="2496" cy="951" r="15" class="xf"/><text class="l" x="2510" y="910">8289136</text></g>
<g id="n8279042"><circle cx="2624" cy="966" r="15" class="xf"/><text class="l" x="2676" y="929">8279042</text></g>
<g id="n7500616"><circle cx="2957" cy="1000" r="15" class="xf"/><text class="l" x="3059" y="972">7500616</text></g>
<g id="n8074889"><circle cx="3063" cy="1038" r="15" class="xf"/><text class="l" x="3179" y="1015">8074889</text></g>
<g id="n8001054"><circle cx="2503" cy="1072" r="15" class="ax"/><text class="l" x="2533" y="1040">8001054</text></g>
<g id="n7668750"><circle cx="2660" cy="1085" r="15" class="w"/><text class="l" x="2740" y="1060">7668750</text></g>
<g id="n7070112"><circle cx="2818" cy="1068" r="15" class="ax"/><text class="l" x="2910" y="1045">7070112</text></g>
<g id="n7578448"><circle cx="2944" cy="1127" r="15" class="w"/><text class="l" x="3050" y="1113">7578448</text></g>
<g id="n7690577"><circle cx="3065" cy="1141" r="15" class="w"/><text class="l" x="3188" y="1133">7690577</text></g>
<g id="n7493288"><circle cx="3199" cy="1195" r="15" class="xf"/><text class="l" x="3328" y="1193">7493288</text></g>
<g id="n7494058"><circle cx="2521" cy="1220" r="15" class="ax"/><text class="l" x="2575" y="1198">7494058</text></g>
<g id="n7793845"><circle cx="2644" cy="1213" r="15" class="ax"/><text class="l" x="2740" y="1205">7793845</text></g>
<g id="n7886157"><circle cx="2786" cy="1241" r="15" class="xf"/></g>
<g id="n7506818"><circle cx="2955" cy="1246" r="15" class="xf"/><text class="l" x="2896" y="1240">7886157</text></g>
<g id="n7506819"><circle cx="3052" cy="1247" r="15" class="xf"/><text class="l" x="3070" y="1254">7506818</text><text class="l" x="3181" y="1256">7506819</text></g>
<g id="n8016191"><circle cx="2603" cy="1322" r="15" class="ax"/><text class="l" x="2703" y="1338">8016191</text></g>
<g id="n7543738"><circle cx="2722" cy="1363" r="15" class="ax"/></g>
<g id="n7988038"><circle cx="2861" cy="1364" r="15" class="xf"/><text class="l" x="2827" y="1384">7543738</text><text class="l" x="2976" y="1386">7988038</text></g>
<g id="n7059531"><circle cx="3068" cy="1417" r="15" class="ax"/><text class="l" x="3194" y="1433">7059531</text></g>
</g>
<g id="legend-patents">
<circle cx="105" cy="2102" r="10" class="w"/><text class="t" x="129" y="2112">6198728 (105 cites) Medium access control (MAC) protocol for wireless ATM</text>
<circle cx="105" cy="2152" r="10" class="ax"/><text class="t" x="129" y="2162">7070112 (23 cites) Transparent transaction device</text>
<circle cx="105" cy="2202" r="10" class="w"/><text class="t" x="129" y="2212">5638371 (14 cites) Multiservices medium access control protocol for wireless ATM system</text>
<circle cx="105" cy="2252" r="10" class="w"/><text class="t" x="129" y="2262">5371734 (8 cites) Medium access control protocol for wireless network</text>
<circle cx="105" cy="2302" r="10" class="w"/><text class="t" x="129" y="2312">5471469 (6 cites) Method of resolving media contention in radio communication links</text>
<circle cx="105" cy="2352" r="10" class="ibm"/><text class="t" x="129" y="2362">5384777 (6 cites) Adaptive medium access control scheme for wireless LAN</text>
<circle cx="105" cy="2402" r="10" class="w"/><text class="t" x="129" y="2412">5012469 (4 cites) Adaptive hybrid multiple access protocols</text>
<circle cx="105" cy="2452" r="10" class="w"/><text class="t" x="129" y="2462">7015809 (4 cites) Method and system for providing an active routing antenna</text>
<circle cx="105" cy="2502" r="10" class="w"/><text class="t" x="129" y="2512">5276703 (3 cites) Wireless local area network communications system</text>
<circle cx="105" cy="2552" r="10" class="w"/><text class="t" x="129" y="2562">5677909 (3 cites) Apparatus for exchanging data between a central station and a plurality of wireless remote stations on a time divided commnication channel</text>
<circle cx="105" cy="2602" r="10" class="xf"/><text class="t" x="129" y="2612">7506818 (3 cites) Biometrics for radio frequency payment transactions</text>
<circle cx="105" cy="2652" r="10" class="xf"/><text class="t" x="129" y="2662">7500616 (3 cites) Authenticating fingerprints for radio frequency payment transactions</text>
<circle cx="105" cy="2702" r="10" class="xf"/><text class="t" x="129" y="2712">7506819 (3 cites) Biometric security using a fob</text>
<circle cx="105" cy="2752" r="10" class="w"/><text class="t" x="129" y="2762">5121383 (2 cites) Duration limited statistical multiplexing in packet networks</text>
<circle cx="105" cy="2802" r="10" class="xf"/><text class="t" x="129" y="2812">7493288 (2 cites) RF payment via a mobile device</text>
<circle cx="105" cy="2852" r="10" class="ax"/><text class="t" x="129" y="2862">7494058 (2 cites) Smartcard transaction method and system using voiceprint recognition</text>
<circle cx="105" cy="2902" r="10" class="ax"/><text class="t" x="129" y="2912">7059531 (2 cites) Method and system for smellprint recognition biometrics on a fob</text>
<circle cx="105" cy="2952" r="10" class="w"/><text class="t" x="129" y="2962">5471461 (1 cite) Digital communication network with a moderator station election process</text>
<circle cx="105" cy="3002" r="10" class="w"/><text class="t" x="129" y="3012">5463620 (1 cite) Bandwidth allocation, transmission scheduling, and congestion avoidance in broadband asynchronous transfer mode networks</text>
<circle cx="105" cy="3052" r="10" class="ibm"/><text class="t" x="129" y="3062">5561689 (1 cite) Method and apparatus for digital carrier detection in a wireless lan</text>
<circle cx="105" cy="3102" r="10" class="w"/><text class="t" x="129" y="3112">5159703 (1 cite) Silent subliminal presentation system</text>
<circle cx="105" cy="3152" r="10" class="w"/><text class="t" x="129" y="3162">7639116 (1 cite) Converting account data associated with a radio frequency device</text>
<circle cx="105" cy="3202" r="10" class="ax"/><text class="t" x="129" y="3212">7543738 (1 cite) System and method for secure transactions manageable by a transaction account provider</text>
<circle cx="105" cy="3252" r="10" class="w"/><text class="t" x="129" y="3262">7578448 (1 cite) Authorizing radio frequency transactions using a keystroke scan</text>
<circle cx="105" cy="3302" r="10" class="ax"/><text class="t" x="129" y="3312">7793845 (1 cite) Smartcard transaction system and method</text>
<circle cx="105" cy="3352" r="10" class="w"/><text class="t" x="129" y="3362">3999005 (1 cite) Secure transmission of AM or FM signals</text>
<circle cx="105" cy="3402" r="10" class="ax"/><text class="t" x="129" y="3412">7827106 (1 cite) System and method for manufacturing a punch-out RFID transaction device</text>
<circle cx="105" cy="3452" r="10" class="w"/><text class="t" x="129" y="3462">5355523 (1 cite) Wireless transmission/reception system including transmitting terminal producing multiple frequency local oscillation signals and receiving terminal storing a local oscillation signal</text>
<circle cx="105" cy="3502" r="10" class="w"/><text class="t" x="129" y="3512">6795865 (1 cite) Adaptively changing weights for fair scheduling in broadcast environments</text>
<circle cx="105" cy="3552" r="10" class="w"/><text class="t" x="129" y="3562">7460514 (1 cite) Adaptive media control</text>
<circle cx="105" cy="3602" r="10" class="w"/><text class="t" x="129" y="3612">7031274 (1 cite) Method for enabling interoperability between data transmission systems conforming to IEEE 802.11 and HIPERLAN standards</text>
</g>
</svg>
